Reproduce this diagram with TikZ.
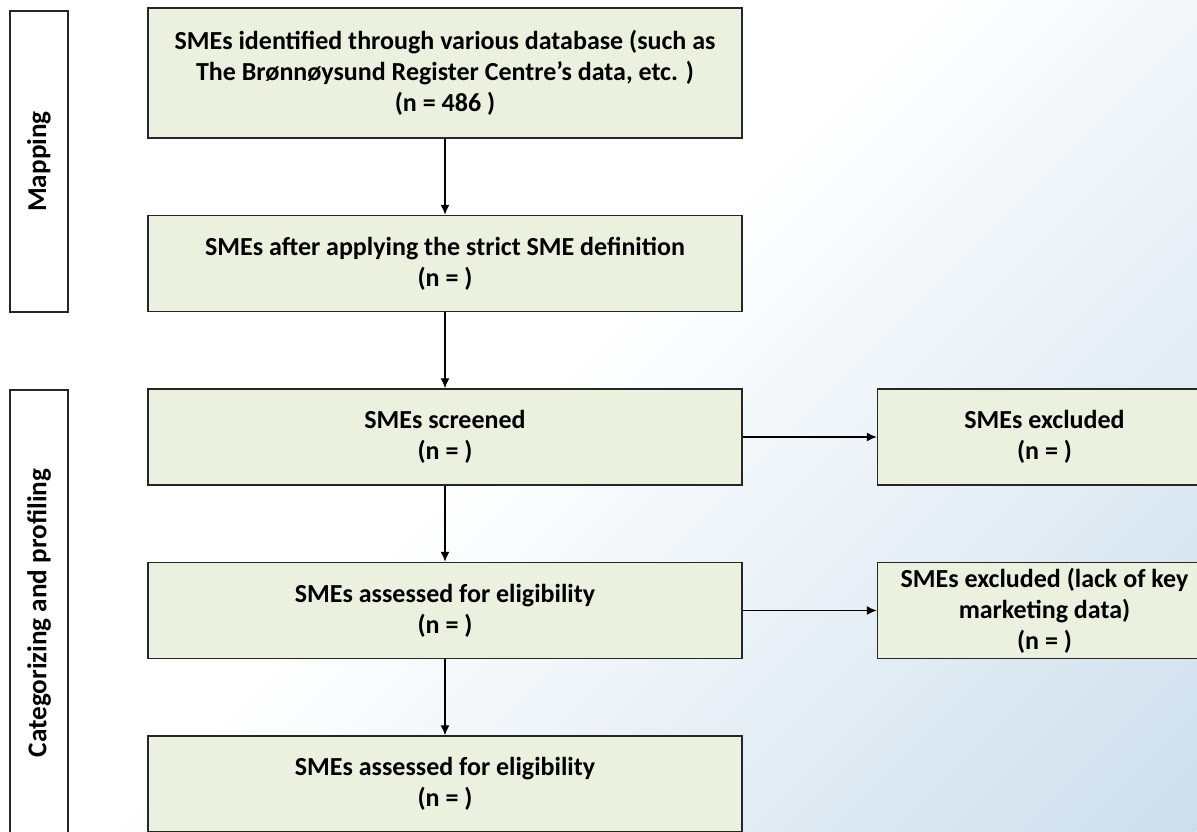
\documentclass[tikz,border=0pt]{standalone}
\usepackage{fontspec}
\setmainfont{Carlito}
\usetikzlibrary{positioning,arrows.meta}
\definecolor{boxgreen}{HTML}{EBF1DE}
\definecolor{bgblue}{HTML}{CCDEEC}
\pgfdeclarehorizontalshading{bgfade}{100bp}{color(0bp)=(white); color(48bp)=(white); color(75bp)=(bgblue); color(100bp)=(bgblue)}
\tikzstyle{stage}=[draw=black!85, fill=boxgreen, line width=.75pt, minimum width=297pt, minimum height=48pt, inner sep=2pt, align=center, font=\fontsize{13}{15.5}\selectfont\bfseries]
\tikzstyle{excl}=[stage, minimum width=167pt]
\tikzstyle{phase}=[draw=black!85, line width=.75pt, minimum height=29pt, rotate=90, font=\fontsize{13.6}{15.5}\selectfont\bfseries]
\tikzstyle{flow}=[-{Latex[length=5pt,width=4.5pt]}, line width=.7pt]

\begin{document}
\begin{tikzpicture}[x=.5pt, y=-.5pt]
  \useasboundingbox (0,0) rectangle (1197,831);
  \begin{scope}
    \clip (0,0) rectangle (1197,831);
    \shade[overlay, shading=bgfade, transform canvas={rotate around={-45:(598.5,415.5)}}] (-118.5,-301.5) rectangle (1315.5,1132.5);
  \end{scope}
  \node[stage, minimum height=65pt] (found) at (445,73) {SMEs identified through various database (such as\\ The Brønnøysund Register Centre’s data, etc. )\\ (n = 486 )};
  \node[stage, below=38pt of found] (strict) {SMEs after applying the strict SME definition\\ (n = )};
  \node[stage, below=38pt of strict] (screen) {SMEs screened\\ (n = )};
  \node[stage, below=38pt of screen] (assess) {SMEs assessed for eligibility\\ (n = )};
  \node[stage, below=38pt of assess] (final) {SMEs assessed for eligibility\\ (n = )};
  \node[excl, right=67pt of screen] (out1) {SMEs excluded\\ (n = )};
  \node[excl, right=67pt of assess] (out2) {SMEs excluded (lack of key\\ marketing data)\\ (n = )};
  \node[phase, minimum width=150.5pt] (map) at (39,161.5) {Mapping};
  \node[phase, minimum width=223pt] (cat) at (39,613) {Categorizing and profiling};
  \draw[flow] (found) -- (strict);
  \draw[flow] (strict) -- (screen);
  \draw[flow] (screen) -- (assess);
  \draw[flow] (assess) -- (final);
  \draw[flow] (screen) -- (out1);
  \draw[flow] (assess) -- (out2);
\end{tikzpicture}
\end{document}
